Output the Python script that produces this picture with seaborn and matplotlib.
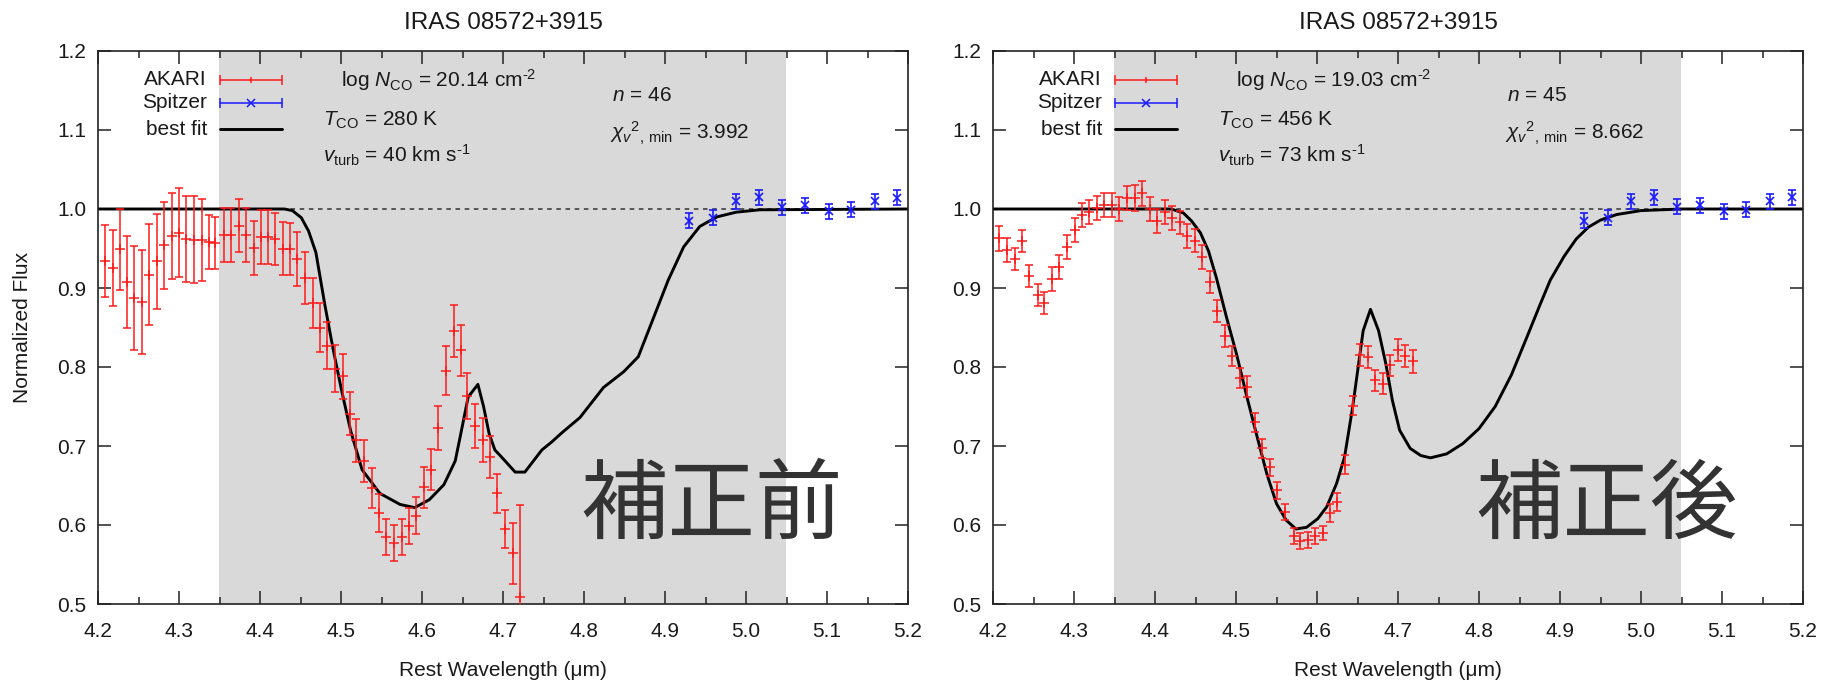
import matplotlib
matplotlib.use('Agg')
import numpy as np
import pandas as pd
import matplotlib.pyplot as plt
import seaborn as sns
from matplotlib.ticker import MultipleLocator, FormatStrFormatter

# ---------------- data ----------------
title_text = "IRAS 08572+3915"
panel_tags = ["補正前", "補正後"]

akari_x_before = [4.209, 4.218, 4.227, 4.236, 4.245, 4.254, 4.263, 4.273, 4.281, 4.291,
                  4.300, 4.309, 4.319, 4.328, 4.337, 4.345, 4.355, 4.364, 4.374, 4.383,
                  4.392, 4.401, 4.410, 4.419, 4.428, 4.437, 4.446, 4.455, 4.465, 4.474,
                  4.483, 4.492, 4.502, 4.511, 4.519, 4.528, 4.538, 4.547, 4.556, 4.565,
                  4.575, 4.584, 4.593, 4.602, 4.611, 4.620, 4.630, 4.639, 4.648, 4.656,
                  4.666, 4.675, 4.684, 4.693, 4.702, 4.712, 4.721]
akari_y_before = [0.934, 0.925, 0.949, 0.908, 0.887, 0.882, 0.917, 0.934, 0.954, 0.966,
                  0.970, 0.962, 0.961, 0.961, 0.958, 0.957, 0.967, 0.967, 0.979, 0.967,
                  0.951, 0.965, 0.965, 0.962, 0.950, 0.949, 0.937, 0.913, 0.881, 0.850,
                  0.827, 0.798, 0.788, 0.741, 0.707, 0.681, 0.647, 0.615, 0.585, 0.577,
                  0.585, 0.599, 0.612, 0.648, 0.670, 0.723, 0.795, 0.846, 0.821, 0.763,
                  0.725, 0.708, 0.686, 0.640, 0.595, 0.564, 0.509]
akari_err_before = [0.046, 0.048, 0.051, 0.058, 0.066, 0.066, 0.064, 0.060, 0.055, 0.054,
                    0.056, 0.055, 0.055, 0.052, 0.034, 0.033, 0.034, 0.034, 0.034, 0.034,
                    0.034, 0.034, 0.034, 0.033, 0.034, 0.033, 0.034, 0.033, 0.032, 0.031,
                    0.030, 0.030, 0.028, 0.027, 0.027, 0.026, 0.025, 0.024, 0.023, 0.023,
                    0.023, 0.023, 0.024, 0.026, 0.026, 0.028, 0.031, 0.033, 0.032, 0.029,
                    0.028, 0.028, 0.027, 0.025, 0.024, 0.039, 0.116]

akari_x_after = [4.207, 4.217, 4.227, 4.236, 4.245, 4.255, 4.263, 4.273, 4.282, 4.291,
                 4.301, 4.310, 4.319, 4.329, 4.337, 4.347, 4.356, 4.366, 4.375, 4.384,
                 4.394, 4.403, 4.412, 4.421, 4.431, 4.440, 4.449, 4.458, 4.468, 4.477,
                 4.486, 4.495, 4.505, 4.514, 4.523, 4.532, 4.542, 4.551, 4.561, 4.571,
                 4.579, 4.589, 4.598, 4.607, 4.616, 4.625, 4.635, 4.644, 4.653, 4.663,
                 4.672, 4.681, 4.690, 4.700, 4.709, 4.718]
akari_y_after = [0.963, 0.948, 0.937, 0.960, 0.915, 0.891, 0.881, 0.911, 0.927, 0.952,
                 0.973, 0.992, 0.996, 1.001, 1.005, 1.005, 1.000, 1.014, 1.014, 1.020,
                 1.000, 0.985, 0.996, 0.989, 0.983, 0.966, 0.960, 0.939, 0.908, 0.871,
                 0.839, 0.814, 0.786, 0.775, 0.730, 0.697, 0.673, 0.644, 0.616, 0.586,
                 0.580, 0.581, 0.586, 0.590, 0.615, 0.629, 0.676, 0.751, 0.815, 0.813,
                 0.783, 0.779, 0.802, 0.822, 0.814, 0.807]
akari_err_after = [0.016, 0.015, 0.014, 0.014, 0.014, 0.014, 0.014, 0.015, 0.015, 0.015,
                   0.015, 0.015, 0.015, 0.015, 0.015, 0.015, 0.015, 0.015, 0.016, 0.016,
                   0.015, 0.015, 0.015, 0.015, 0.015, 0.015, 0.015, 0.015, 0.014, 0.014,
                   0.014, 0.013, 0.013, 0.013, 0.012, 0.012, 0.011, 0.011, 0.010, 0.010,
                   0.010, 0.010, 0.010, 0.009, 0.011, 0.011, 0.012, 0.012, 0.014, 0.014,
                   0.013, 0.013, 0.013, 0.014, 0.014, 0.014]

spitzer_x = [4.930, 4.959, 4.988, 5.016, 5.044, 5.073, 5.102, 5.130, 5.159, 5.187]
spitzer_y_before = [0.985, 0.989, 1.010, 1.015, 1.002, 1.005, 0.997, 0.999, 1.010, 1.014]
spitzer_y_after = [0.985, 0.989, 1.010, 1.015, 1.003, 1.005, 0.997, 0.999, 1.010, 1.015]
spitzer_err = [0.0095, 0.0095, 0.0095, 0.0095, 0.0095, 0.0095, 0.0095, 0.0095, 0.0095, 0.0095]

fit_x_before = [4.20, 4.43, 4.44, 4.451, 4.46, 4.469, 4.48, 4.49, 4.501, 4.512, 4.526,
                4.548, 4.573, 4.591, 4.609, 4.627, 4.641, 4.647, 4.657, 4.669, 4.676,
                4.683, 4.690, 4.700, 4.715, 4.727, 4.748, 4.760, 4.773, 4.795, 4.824,
                4.849, 4.867, 4.888, 4.904, 4.923, 4.943, 4.964, 4.988, 5.017, 5.20]
fit_y_before = [1.0, 1.0, 0.998, 0.989, 0.972, 0.945, 0.879, 0.824, 0.769, 0.719, 0.670,
                0.640, 0.626, 0.622, 0.632, 0.651, 0.681, 0.711, 0.762, 0.778, 0.750,
                0.715, 0.695, 0.684, 0.667, 0.667, 0.695, 0.705, 0.717, 0.736, 0.774,
                0.794, 0.813, 0.868, 0.910, 0.952, 0.978, 0.990, 0.996, 0.999, 1.0]

fit_x_after = [4.20, 4.42, 4.435, 4.445, 4.456, 4.466, 4.476, 4.488, 4.501, 4.513, 4.526,
               4.538, 4.550, 4.562, 4.574, 4.587, 4.601, 4.612, 4.624, 4.634, 4.644,
               4.657, 4.666, 4.676, 4.685, 4.693, 4.702, 4.715, 4.728, 4.740, 4.760,
               4.780, 4.800, 4.820, 4.840, 4.860, 4.875, 4.888, 4.905, 4.920, 4.935,
               4.950, 4.970, 5.000, 5.050, 5.20]
fit_y_after = [1.0, 1.0, 0.995, 0.985, 0.970, 0.947, 0.912, 0.864, 0.815, 0.764, 0.712,
               0.665, 0.627, 0.606, 0.595, 0.597, 0.608, 0.623, 0.652, 0.686, 0.749,
               0.846, 0.873, 0.846, 0.804, 0.758, 0.720, 0.697, 0.688, 0.685, 0.690,
               0.703, 0.722, 0.750, 0.790, 0.840, 0.878, 0.910, 0.940, 0.962, 0.977,
               0.986, 0.993, 0.998, 1.0, 1.0]

fit_range = (4.35, 5.05)
params_before = [r"log $N_{\rm CO}$ = 20.14 cm$^{\text{-2}}$", r"$T_{\rm CO}$ = 280 K",
                 r"$v_{\rm turb}$ = 40 km s$^{\text{-1}}$", r"$n$ = 46",
                 r"$\chi_{v}{}^{2}{}_{,\,\rm min}$ = 3.992"]
params_after = [r"log $N_{\rm CO}$ = 19.03 cm$^{\text{-2}}$", r"$T_{\rm CO}$ = 456 K",
                r"$v_{\rm turb}$ = 73 km s$^{\text{-1}}$", r"$n$ = 45",
                r"$\chi_{v}{}^{2}{}_{,\,\rm min}$ = 8.662"]
legend_labels = ["AKARI", "Spitzer", "best fit"]

# ---------------- style ----------------
sns.set_theme(style='ticks')
plt.rcParams['font.family'] = ['Liberation Sans', 'DejaVu Sans']
plt.rcParams['mathtext.fontset'] = 'custom'
plt.rcParams['mathtext.rm'] = 'Liberation Sans'
plt.rcParams['mathtext.it'] = 'Liberation Sans:italic'
plt.rcParams['mathtext.bf'] = 'Liberation Sans:bold'

RED = '#ff1a1a'
BLUE = '#1a1aff'
TXT = '#1a1a1a'
FS = 15

fig = plt.figure(figsize=(18.21, 6.82), dpi=100)
ax1 = fig.add_axes([98 / 1821, 78 / 682, 810 / 1821, 553 / 682])
ax2 = fig.add_axes([993 / 1821, 78 / 682, 810 / 1821, 553 / 682])


def draw_panel(ax, ax_x, ax_y, ax_e, sp_y, fx, fy, params, tag, ylabel):
    ax.axvspan(fit_range[0], fit_range[1], color='#d9d9d9', lw=0, zorder=0)
    ax.axhline(1.0, color='#333333', lw=1.1, ls=(0, (3, 3)), zorder=1)
    fit_df = pd.DataFrame({'x': fx, 'y': fy})
    sns.lineplot(data=fit_df, x='x', y='y', ax=ax, color='black', lw=2.1,
                 sort=False, estimator=None, zorder=2)
    ax.errorbar(ax_x, ax_y, yerr=ax_e, fmt='+', color=RED, ms=7.5, mew=1.1,
                elinewidth=1.1, capsize=2.6, capthick=1.1, zorder=3)
    ax.errorbar(spitzer_x, sp_y, yerr=spitzer_err, fmt='x', color=BLUE, ms=6,
                mew=1.2, elinewidth=1.2, capsize=3, capthick=1.2, zorder=3)

    ax.set_xlim(4.2, 5.2)
    ax.set_ylim(0.5, 1.2)
    ax.xaxis.set_major_locator(MultipleLocator(0.1))
    ax.xaxis.set_minor_locator(MultipleLocator(0.05))
    ax.yaxis.set_major_locator(MultipleLocator(0.1))
    ax.xaxis.set_major_formatter(FormatStrFormatter('%.1f'))
    ax.yaxis.set_major_formatter(FormatStrFormatter('%.1f'))
    ax.tick_params(which='both', direction='in', top=True, right=True,
                   color='#222222', width=1.1)
    ax.tick_params(which='major', length=9.5)
    ax.tick_params(which='minor', length=5)
    ax.tick_params(axis='x', which='major', pad=13, labelsize=FS, labelcolor=TXT)
    ax.tick_params(axis='y', which='major', pad=8.5, labelsize=FS, labelcolor=TXT)
    for s in ax.spines.values():
        s.set_color('#222222')
        s.set_linewidth(1.2)
        s.set_visible(True)

    ax.set_title(title_text, fontsize=17.5, pad=15.5, color=TXT)
    ax.set_xlabel("Rest Wavelength (μm)", fontsize=FS, color=TXT)
    ax.xaxis.label.set_va('center')
    ax.xaxis.set_label_coords(0.5, -0.121)
    if ylabel:
        ax.set_ylabel("Normalized Flux", fontsize=FS, color=TXT)
        ax.yaxis.label.set_va('center')
        ax.yaxis.set_label_coords(-0.0926, 0.5)
    else:
        ax.set_ylabel("")

    # legend (gnuplot style: label left, sample right)
    tr = ax.transAxes
    ly = [0.9476, 0.9066, 0.8589]
    x0, x1 = 0.1506, 0.2272
    xm = (x0 + x1) / 2
    for lab, yy in zip(legend_labels, ly):
        ax.text(0.1346, yy, lab, transform=tr, ha='right', va='center',
                fontsize=FS, color=TXT)
    ax.plot([x0, x1], [ly[0]] * 2, transform=tr, color=RED, lw=1.1, zorder=4)
    ax.plot([x0, x1], [ly[0]] * 2, transform=tr, color=RED, lw=0, marker='|',
            ms=7, mew=1.1, zorder=4)
    ax.plot([xm], [ly[0]], transform=tr, color=RED, lw=0, marker='|', ms=5,
            mew=1.1, zorder=4)
    ax.plot([x0, x1], [ly[1]] * 2, transform=tr, color=BLUE, lw=1.1, zorder=4)
    ax.plot([x0, x1], [ly[1]] * 2, transform=tr, color=BLUE, lw=0, marker='|',
            ms=7, mew=1.1, zorder=4)
    ax.plot([xm], [ly[1]], transform=tr, color=BLUE, lw=0, marker='x', ms=6,
            mew=1.1, zorder=4)
    ax.plot([x0, x1], [ly[2]] * 2, transform=tr, color='black', lw=2.1, zorder=4)

    # fit parameters
    pos = [(0.3000, 0.9476), (0.2778, 0.8752), (0.2778, 0.8119),
           (0.6346, 0.9204), (0.6321, 0.8517)]
    for txt, (px, py) in zip(params, pos):
        ax.text(px, py, txt, transform=tr, ha='left', va='center',
                fontsize=FS, color=TXT)

    ax.text(0.758, 0.175, tag, transform=tr, ha='center', va='center',
            fontsize=63, family=['Noto Sans CJK JP', 'DejaVu Sans'],
            color='#333333', zorder=5)


draw_panel(ax1, akari_x_before, akari_y_before, akari_err_before,
           spitzer_y_before, fit_x_before, fit_y_before, params_before,
           panel_tags[0], True)
draw_panel(ax2, akari_x_after, akari_y_after, akari_err_after,
           spitzer_y_after, fit_x_after, fit_y_after, params_after,
           panel_tags[1], False)

fig.savefig('out.png', dpi=100)
